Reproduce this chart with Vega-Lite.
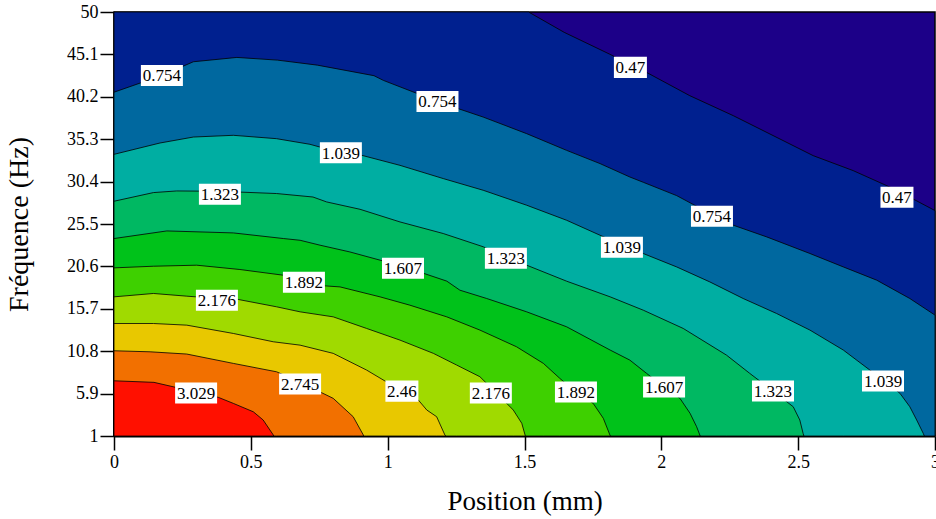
{
  "$schema": "https://vega.github.io/schema/vega-lite/v6.json",
  "autosize": "none",
  "width": 821,
  "height": 424,
  "padding": {"left": 114, "top": 12, "right": 1, "bottom": 83},
  "background": "white",
  "config": {
    "view": {"stroke": "black", "strokeWidth": 1.5, "fill": "#1C0088"},
    "font": "Liberation Serif"
  },
  "datasets": {
    "contours": [
      {"level":0.47,"pos":0,"freq":50},{"level":0.47,"pos":1.515,"freq":50},{"level":0.47,"pos":1.645,"freq":47.65},{"level":0.47,"pos":1.811,"freq":45.13},{"level":0.47,"pos":1.887,"freq":43.9},{"level":0.47,"pos":1.946,"freq":43.02},{"level":0.47,"pos":2.104,"freq":40.33},{"level":0.47,"pos":2.263,"freq":38.02},{"level":0.47,"pos":2.397,"freq":35.9},{"level":0.47,"pos":2.555,"freq":33.4},{"level":0.47,"pos":2.701,"freq":31.67},{"level":0.47,"pos":2.861,"freq":29.4},{"level":0.47,"pos":2.92,"freq":28.39},{"level":0.47,"pos":3,"freq":27.05},
      {"level":0.754,"pos":0,"freq":40.73},{"level":0.754,"pos":0.175,"freq":42.67},{"level":0.754,"pos":0.29,"freq":44.25},{"level":0.754,"pos":0.449,"freq":44.75},{"level":0.754,"pos":0.597,"freq":44.44},{"level":0.754,"pos":0.743,"freq":43.86},{"level":0.754,"pos":0.95,"freq":42.64},{"level":0.754,"pos":0.984,"freq":42.1},{"level":0.754,"pos":1.182,"freq":39.67},{"level":0.754,"pos":1.258,"freq":38.83},{"level":0.754,"pos":1.349,"freq":37.86},{"level":0.754,"pos":1.508,"freq":35.94},{"level":0.754,"pos":1.654,"freq":34.01},{"level":0.754,"pos":1.776,"freq":32.48},{"level":0.754,"pos":1.885,"freq":30.93},{"level":0.754,"pos":1.934,"freq":30.32},{"level":0.754,"pos":2.056,"freq":28.78},{"level":0.754,"pos":2.185,"freq":26.6},{"level":0.754,"pos":2.263,"freq":25.36},{"level":0.754,"pos":2.385,"freq":24.01},{"level":0.754,"pos":2.543,"freq":22.09},{"level":0.754,"pos":2.665,"freq":20.54},{"level":0.754,"pos":2.787,"freq":19.01},{"level":0.754,"pos":2.908,"freq":16.89},{"level":0.754,"pos":3,"freq":14.97},
      {"level":1.039,"pos":0,"freq":33.55},{"level":1.039,"pos":0.168,"freq":34.86},{"level":1.039,"pos":0.29,"freq":35.55},{"level":1.039,"pos":0.436,"freq":35.75},{"level":1.039,"pos":0.594,"freq":35.36},{"level":1.039,"pos":0.716,"freq":34.71},{"level":1.039,"pos":0.829,"freq":33.73},{"level":1.039,"pos":0.905,"freq":33.44},{"level":1.039,"pos":1.045,"freq":32.28},{"level":1.039,"pos":1.203,"freq":30.75},{"level":1.039,"pos":1.349,"freq":29.4},{"level":1.039,"pos":1.508,"freq":27.67},{"level":1.039,"pos":1.654,"freq":25.93},{"level":1.039,"pos":1.776,"freq":24.2},{"level":1.039,"pos":1.856,"freq":23.1},{"level":1.039,"pos":1.934,"freq":22.09},{"level":1.039,"pos":2.056,"freq":20.54},{"level":1.039,"pos":2.177,"freq":18.81},{"level":1.039,"pos":2.299,"freq":16.89},{"level":1.039,"pos":2.421,"freq":15.16},{"level":1.039,"pos":2.543,"freq":13.24},{"level":1.039,"pos":2.665,"freq":10.93},{"level":1.039,"pos":2.762,"freq":8.62},{"level":1.039,"pos":2.81,"freq":7.5},{"level":1.039,"pos":2.872,"freq":5.93},{"level":1.039,"pos":2.908,"freq":4.38},{"level":1.039,"pos":2.933,"freq":2.85},{"level":1.039,"pos":2.957,"freq":1.31},{"level":1.039,"pos":2.961,"freq":1},
      {"level":1.323,"pos":0,"freq":28.13},{"level":1.323,"pos":0.144,"freq":29.13},{"level":1.323,"pos":0.229,"freq":29.32},{"level":1.323,"pos":0.387,"freq":29.28},{"level":1.323,"pos":0.594,"freq":29.02},{"level":1.323,"pos":0.727,"freq":28.62},{"level":1.323,"pos":0.777,"freq":28.05},{"level":1.323,"pos":0.899,"freq":27.2},{"level":1.323,"pos":1.045,"freq":25.74},{"level":1.323,"pos":1.203,"freq":24.4},{"level":1.323,"pos":1.349,"freq":22.87},{"level":1.323,"pos":1.432,"freq":21.7},{"level":1.323,"pos":1.508,"freq":20.74},{"level":1.323,"pos":1.654,"freq":18.89},{"level":1.323,"pos":1.813,"freq":17.08},{"level":1.323,"pos":1.934,"freq":15.54},{"level":1.323,"pos":2.08,"freq":13.43},{"level":1.323,"pos":2.238,"freq":10.35},{"level":1.323,"pos":2.323,"freq":8.24},{"level":1.323,"pos":2.408,"freq":6.19},{"level":1.323,"pos":2.482,"freq":4.38},{"level":1.323,"pos":2.506,"freq":2.85},{"level":1.323,"pos":2.518,"freq":1.31},{"level":1.323,"pos":2.521,"freq":1},
      {"level":1.607,"pos":0,"freq":23.82},{"level":1.607,"pos":0.193,"freq":24.7},{"level":1.607,"pos":0.436,"freq":24.47},{"level":1.607,"pos":0.619,"freq":23.82},{"level":1.607,"pos":0.68,"freq":23.62},{"level":1.607,"pos":0.753,"freq":23.05},{"level":1.607,"pos":0.862,"freq":22.27},{"level":1.607,"pos":1.056,"freq":20.6},{"level":1.607,"pos":1.133,"freq":19.78},{"level":1.607,"pos":1.216,"freq":18.9},{"level":1.607,"pos":1.264,"freq":17.85},{"level":1.607,"pos":1.362,"freq":16.89},{"level":1.607,"pos":1.508,"freq":15.35},{"level":1.607,"pos":1.654,"freq":13.62},{"level":1.607,"pos":1.813,"freq":10.93},{"level":1.607,"pos":1.885,"freq":9.77},{"level":1.607,"pos":1.946,"freq":8.24},{"level":1.607,"pos":2.01,"freq":6.66},{"level":1.607,"pos":2.068,"freq":5.35},{"level":1.607,"pos":2.105,"freq":3.62},{"level":1.607,"pos":2.129,"freq":2.07},{"level":1.607,"pos":2.142,"freq":1},
      {"level":1.892,"pos":0,"freq":20.43},{"level":1.892,"pos":0.144,"freq":20.62},{"level":1.892,"pos":0.302,"freq":20.74},{"level":1.892,"pos":0.46,"freq":20.24},{"level":1.892,"pos":0.619,"freq":19.58},{"level":1.892,"pos":0.694,"freq":18.9},{"level":1.892,"pos":0.771,"freq":18.35},{"level":1.892,"pos":0.826,"freq":18.23},{"level":1.892,"pos":0.972,"freq":17.08},{"level":1.892,"pos":1.081,"freq":16.12},{"level":1.892,"pos":1.216,"freq":14.77},{"level":1.892,"pos":1.337,"freq":13.24},{"level":1.892,"pos":1.471,"freq":11.31},{"level":1.892,"pos":1.569,"freq":9.39},{"level":1.892,"pos":1.629,"freq":7.66},{"level":1.892,"pos":1.688,"freq":6.08},{"level":1.892,"pos":1.751,"freq":4.77},{"level":1.892,"pos":1.788,"freq":3.04},{"level":1.892,"pos":1.812,"freq":1.12},{"level":1.892,"pos":1.814,"freq":1},
      {"level":2.176,"pos":0,"freq":17.08},{"level":2.176,"pos":0.144,"freq":17.47},{"level":2.176,"pos":0.266,"freq":17.16},{"level":2.176,"pos":0.376,"freq":16.9},{"level":2.176,"pos":0.454,"freq":16.78},{"level":2.176,"pos":0.594,"freq":15.93},{"level":2.176,"pos":0.68,"freq":15.35},{"level":2.176,"pos":0.801,"freq":14.77},{"level":2.176,"pos":0.923,"freq":13.43},{"level":2.176,"pos":1.045,"freq":12.08},{"level":2.176,"pos":1.167,"freq":10.55},{"level":2.176,"pos":1.252,"freq":9.2},{"level":2.176,"pos":1.337,"freq":7.85},{"level":2.176,"pos":1.377,"freq":6.6},{"level":2.176,"pos":1.435,"freq":4.77},{"level":2.176,"pos":1.459,"freq":4.0},{"level":2.176,"pos":1.49,"freq":2.47},{"level":2.176,"pos":1.502,"freq":1.12},{"level":2.176,"pos":1.503,"freq":1},
      {"level":2.46,"pos":0,"freq":14.0},{"level":2.46,"pos":0.144,"freq":14.0},{"level":2.46,"pos":0.266,"freq":13.81},{"level":2.46,"pos":0.436,"freq":12.85},{"level":2.46,"pos":0.582,"freq":11.89},{"level":2.46,"pos":0.68,"freq":11.5},{"level":2.46,"pos":0.801,"freq":10.55},{"level":2.46,"pos":0.923,"freq":8.62},{"level":2.46,"pos":1.052,"freq":6.19},{"level":2.46,"pos":1.112,"freq":5.16},{"level":2.46,"pos":1.143,"freq":4.0},{"level":2.46,"pos":1.179,"freq":3.23},{"level":2.46,"pos":1.209,"freq":1.12},{"level":2.46,"pos":1.212,"freq":1},
      {"level":2.745,"pos":0,"freq":10.85},{"level":2.745,"pos":0.132,"freq":10.73},{"level":2.745,"pos":0.266,"freq":10.47},{"level":2.745,"pos":0.436,"freq":9.39},{"level":2.745,"pos":0.594,"freq":8.42},{"level":2.745,"pos":0.68,"freq":7.23},{"level":2.745,"pos":0.759,"freq":6.0},{"level":2.745,"pos":0.801,"freq":5.35},{"level":2.745,"pos":0.874,"freq":3.23},{"level":2.745,"pos":0.911,"freq":1.12},{"level":2.745,"pos":0.912,"freq":1},
      {"level":3.029,"pos":0,"freq":7.38},{"level":3.029,"pos":0.146,"freq":7.2},{"level":3.029,"pos":0.3,"freq":6.08},{"level":3.029,"pos":0.381,"freq":5.47},{"level":3.029,"pos":0.436,"freq":4.77},{"level":3.029,"pos":0.509,"freq":3.8},{"level":3.029,"pos":0.545,"freq":2.85},{"level":3.029,"pos":0.582,"freq":1.12},{"level":3.029,"pos":0.584,"freq":1}
    ],
    "labels": [
      {"label":"0.754","pos":0.175,"freq":42.67},{"label":"0.47","pos":1.887,"freq":43.6},{"label":"0.754","pos":1.182,"freq":39.67},{"label":"1.039","pos":0.829,"freq":33.73},{"label":"1.323","pos":0.387,"freq":28.93},{"label":"0.754","pos":2.185,"freq":26.4},{"label":"0.47","pos":2.861,"freq":28.59},{"label":"1.039","pos":1.856,"freq":22.82},{"label":"1.323","pos":1.432,"freq":21.55},{"label":"1.892","pos":0.694,"freq":18.78},{"label":"1.607","pos":1.056,"freq":20.39},{"label":"2.176","pos":0.376,"freq":16.7},{"label":"3.029","pos":0.3,"freq":5.96},{"label":"2.745","pos":0.68,"freq":7.0},{"label":"2.46","pos":1.052,"freq":6.19},{"label":"2.176","pos":1.377,"freq":5.96},{"label":"1.892","pos":1.688,"freq":6.08},{"label":"1.607","pos":2.01,"freq":6.66},{"label":"1.323","pos":2.408,"freq":6.19},{"label":"1.039","pos":2.81,"freq":7.35}
    ]
  },
  "encoding": {
    "x": {"field": "pos", "type": "quantitative",
      "scale": {"domain": [0, 3], "nice": false, "zero": false},
      "axis": {"values": [0, 0.5, 1, 1.5, 2, 2.5, 3], "format": "~g", "title": "Position (mm)", "grid": false,
        "domainColor": "black", "domainWidth": 2, "tickColor": "black", "tickWidth": 1.5, "tickSize": 14,
        "labelFont": "Liberation Serif", "labelFontSize": 18, "labelColor": "black", "labelPadding": 3,
        "labelFlush": false, "labelOverlap": false,
        "titleFont": "Liberation Serif", "titleFontSize": 27, "titleFontWeight": "normal", "titleColor": "black", "titlePadding": 17}},
    "y": {"field": "freq", "type": "quantitative",
      "scale": {"domain": [1, 50], "nice": false, "zero": false},
      "axis": {"values": [1, 5.9, 10.8, 15.7, 20.6, 25.5, 30.4, 35.3, 40.2, 45.1, 50], "format": ".3~g", "title": "Fréquence  (Hz)", "grid": false,
        "domainColor": "black", "domainWidth": 2, "tickColor": "black", "tickWidth": 1.5, "tickSize": 14,
        "labelFont": "Liberation Serif", "labelFontSize": 18, "labelColor": "black", "labelPadding": 2,
        "labelFlush": false, "labelOverlap": false,
        "titleFont": "Liberation Serif", "titleFontSize": 28, "titleFontWeight": "normal", "titleColor": "black", "titlePadding": 33}}
  },
  "layer": [
    {
      "data": {"name": "contours"},
      "mark": {"type": "area", "stroke": "black", "strokeWidth": 0.8, "opacity": 1, "fillOpacity": 1},
      "encoding": {
        "y2": {"datum": 1},
        "color": {"field": "level", "type": "ordinal",
          "scale": {"domain": [0.47, 0.754, 1.039, 1.323, 1.607, 1.892, 2.176, 2.46, 2.745, 3.029],
            "range": ["#00208F", "#00689F", "#00AEA2", "#00B862", "#00C21A", "#3ED000", "#A0DA00", "#E8C800", "#F27000", "#FF1000"]},
          "legend": null}
      }
    },
    {
      "data": {"name": "labels"},
      "mark": {"type": "point", "filled": true, "fill": "white", "opacity": 1, "strokeWidth": 0},
      "encoding": {
        "shape": {"condition": {"test": "length(datum.label) < 5", "value": "M-1,-0.64H1V0.64H-1Z"}, "value": "M-1,-0.5H1V0.5H-1Z"},
        "size": {"condition": {"test": "length(datum.label) < 5", "value": 1089}, "value": 1764}
      }
    },
    {
      "data": {"name": "labels"},
      "mark": {"type": "text", "font": "Liberation Serif", "fontSize": 17, "color": "black", "align": "center", "baseline": "middle", "dy": 1},
      "encoding": {"text": {"field": "label"}}
    }
  ]
}
